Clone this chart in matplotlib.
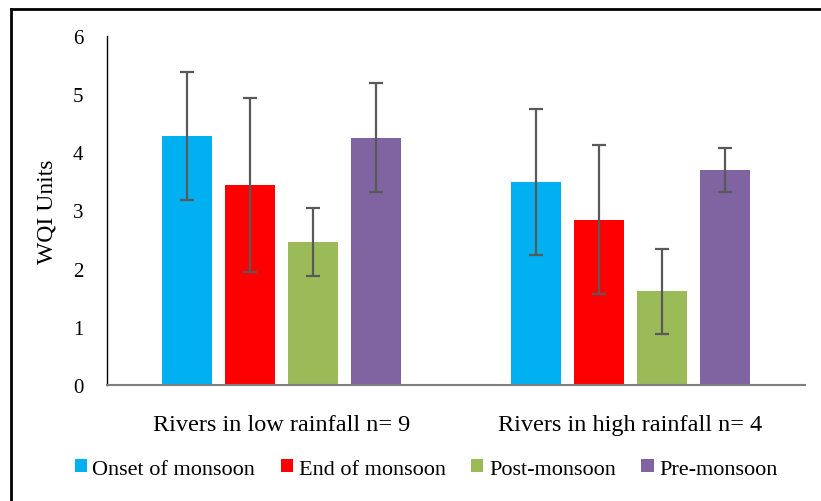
import matplotlib.pyplot as plt
import numpy as np
from matplotlib.lines import Line2D

plt.rcParams["font.family"] = ["Liberation Serif", "DejaVu Serif"]

groups = ["Rivers in low rainfall n= 9", "Rivers in high rainfall n= 4"]
seasons = ["Onset of monsoon", "End of monsoon", "Post-monsoon", "Pre-monsoon"]
colors = ["#00B0F0", "#FF0000", "#9BBB59", "#8064A2"]

# mean WQI per season, one value per rainfall group
onset = [4.28, 3.49]
end = [3.44, 2.84]
post = [2.46, 1.61]
pre = [4.25, 3.70]

# standard deviations (error bars)
onset_sd = [1.10, 1.25]
end_sd = [1.49, 1.28]
post_sd = [0.58, 0.73]
pre_sd = [0.94, 0.38]

means = [onset, end, post, pre]
sds = [onset_sd, end_sd, post_sd, pre_sd]

fig = plt.figure(figsize=(8.21, 5.02), dpi=100)
ax = fig.add_axes([0.1303, 0.2311, 0.8502, 0.6952])

x = np.arange(len(groups))
width = 0.143
step = 0.181

for i, (m, s) in enumerate(zip(means, sds)):
    pos = x + (i - 1.5) * step
    ax.bar(pos, m, width, color=colors[i], label=seasons[i], zorder=2)
    ax.errorbar(pos, m, yerr=s, fmt="none", ecolor="#595959",
                elinewidth=1.6, capsize=5, capthick=1.6, zorder=3)

ax.set_xlim(-0.5, 1.5)
ax.set_ylim(0, 6)
ax.set_yticks(range(0, 7))
ax.set_xticks(x)
ax.set_xticklabels(groups, fontsize=17.5)
ax.tick_params(axis="x", length=0, pad=21)
ax.tick_params(axis="y", length=0, pad=17, labelsize=15)
ax.set_ylabel("WQI Units", fontsize=17, labelpad=11)

for side in ["top", "right"]:
    ax.spines[side].set_visible(False)
ax.spines["left"].set_color("black")
ax.spines["left"].set_linewidth(1.0)
ax.spines["bottom"].set_color("#7f7f7f")
ax.spines["bottom"].set_linewidth(1.5)

ax.legend(loc="center", bbox_to_anchor=(0.519, 0.064), bbox_transform=fig.transFigure,
          ncol=4, frameon=False, fontsize=16, handlelength=0.55, handleheight=0.55,
          handletextpad=0.25, columnspacing=1.15)

# outer frame
fig.add_artist(Line2D([11 / 821, 1.0], [1 - 10 / 502, 1 - 10 / 502],
                      transform=fig.transFigure, color="black", linewidth=2))
fig.add_artist(Line2D([11 / 821, 11 / 821], [0.0, 1 - 10 / 502],
                      transform=fig.transFigure, color="black", linewidth=2))

fig.savefig("out.png", dpi=100)
